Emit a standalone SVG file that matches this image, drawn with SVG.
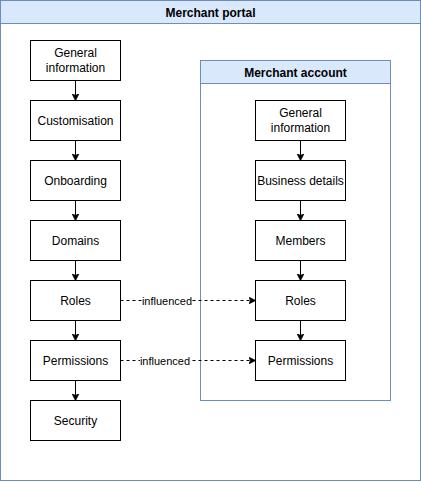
<svg xmlns="http://www.w3.org/2000/svg" width="421" height="482" viewBox="0 0 421 482">
<defs>
<marker id="arr" viewBox="0 0 10 10" refX="9" refY="5" markerWidth="7" markerHeight="7" markerUnits="userSpaceOnUse" orient="auto">
<path d="M0,0 L10,5 L0,10 L2.5,5 Z" fill="#000" stroke="#000" stroke-width="1"/>
</marker>
</defs>
<style>
.cont{fill:#fff;stroke:#6c8ebf;stroke-width:1}
.hdr{fill:#dae8fc;stroke:#6c8ebf;stroke-width:1}
.box{fill:#fff;stroke:#000;stroke-width:1}
.t{font-family:"Liberation Sans",Arial,sans-serif;font-size:12px;fill:#000;text-anchor:middle}
.h{font-family:"Liberation Sans",Arial,sans-serif;font-size:12px;font-weight:bold;fill:#000;text-anchor:middle}
.lbl{font-family:"Liberation Sans",Arial,sans-serif;font-size:11px;fill:#000;text-anchor:middle}
.e{stroke:#000;stroke-width:1;fill:none;marker-end:url(#arr)}
.d{stroke-dasharray:3 3}
</style>
<g id="merchant-portal">
<rect class="cont" x="0.5" y="0.5" width="420" height="480"/>
<rect class="hdr" x="0.5" y="0.5" width="420" height="23"/>
<text class="h" x="210.5" y="16.5">Merchant portal</text>
</g>
<g id="merchant-account">
<rect class="cont" x="200.5" y="60.5" width="190" height="340"/>
<rect class="hdr" x="200.5" y="60.5" width="190" height="23"/>
<text class="h" x="295.5" y="76.5">Merchant account</text>
</g>
<g id="p-general">
<rect class="box" x="30.5" y="40.5" width="90" height="40"/>
<text class="t" x="75.5" y="57">General</text>
<text class="t" x="75.5" y="72">information</text>
</g>
<g id="p-custom">
<rect class="box" x="30.5" y="100.5" width="90" height="40"/>
<text class="t" x="75.5" y="124.5">Customisation</text>
</g>
<g id="p-onboarding">
<rect class="box" x="30.5" y="160.5" width="90" height="40"/>
<text class="t" x="75.5" y="184.5">Onboarding</text>
</g>
<g id="p-domains">
<rect class="box" x="30.5" y="220.5" width="90" height="40"/>
<text class="t" x="75.5" y="244.5">Domains</text>
</g>
<g id="p-roles">
<rect class="box" x="30.5" y="280.5" width="90" height="40"/>
<text class="t" x="75.5" y="304.5">Roles</text>
</g>
<g id="p-permissions">
<rect class="box" x="30.5" y="340.5" width="90" height="40"/>
<text class="t" x="75.5" y="364.5">Permissions</text>
</g>
<g id="p-security">
<rect class="box" x="30.5" y="400.5" width="90" height="40"/>
<text class="t" x="75.5" y="424.5">Security</text>
</g>
<g id="a-general">
<rect class="box" x="255.5" y="100.5" width="90" height="40"/>
<text class="t" x="300.5" y="117">General</text>
<text class="t" x="300.5" y="132">information</text>
</g>
<g id="a-business">
<rect class="box" x="255.5" y="160.5" width="90" height="40"/>
<text class="t" x="300.5" y="184.5">Business details</text>
</g>
<g id="a-members">
<rect class="box" x="255.5" y="220.5" width="90" height="40"/>
<text class="t" x="300.5" y="244.5">Members</text>
</g>
<g id="a-roles">
<rect class="box" x="255.5" y="280.5" width="90" height="40"/>
<text class="t" x="300.5" y="304.5">Roles</text>
</g>
<g id="a-permissions">
<rect class="box" x="255.5" y="340.5" width="90" height="40"/>
<text class="t" x="300.5" y="364.5">Permissions</text>
</g>
<g id="connectors">
<path class="e" d="M75.5,80.5 V100"/>
<path class="e" d="M75.5,140.5 V160"/>
<path class="e" d="M75.5,200.5 V220"/>
<path class="e" d="M75.5,260.5 V280"/>
<path class="e" d="M75.5,320.5 V340"/>
<path class="e" d="M75.5,380.5 V400"/>
<path class="e" d="M300.5,140.5 V160"/>
<path class="e" d="M300.5,200.5 V220"/>
<path class="e" d="M300.5,260.5 V280"/>
<path class="e" d="M300.5,320.5 V340"/>
<path class="e d" d="M120.5,300.5 H255"/>
<path class="e d" d="M120.5,360.5 H255"/>
<rect x="142" y="294" width="50" height="13" fill="#fff"/>
<text class="lbl" x="167" y="304.5">influenced</text>
<rect x="140" y="354" width="50" height="13" fill="#fff"/>
<text class="lbl" x="165" y="364.5">influenced</text>
</g>
</svg>
